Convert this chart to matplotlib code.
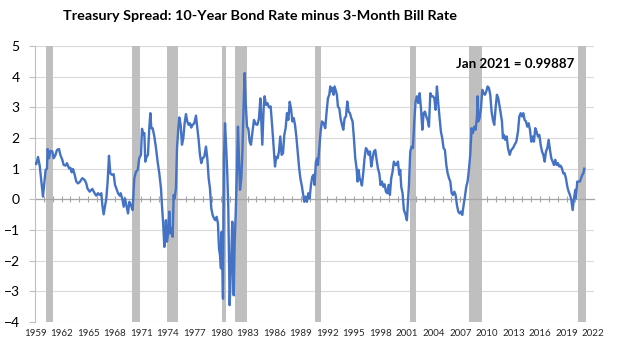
import matplotlib.pyplot as plt
import numpy as np

plt.rcParams['font.family'] = ['Lato', 'DejaVu Sans']

# ---- data (year as decimal, spread in % points) ----
dates_60s = [1959.00, 1959.15, 1959.34, 1959.53, 1959.71, 1959.90, 1960.20, 1960.35, 1960.43, 1960.58,
             1960.73, 1960.96, 1961.11, 1961.29, 1961.48, 1961.71, 1961.86, 1962.08, 1962.24, 1962.46,
             1962.61, 1962.84, 1962.99, 1963.14, 1963.29, 1963.48, 1963.66, 1963.85, 1964.04, 1964.34,
             1964.61, 1964.79, 1964.91, 1965.17, 1965.47, 1965.73, 1965.92, 1966.11, 1966.30, 1966.49,
             1966.60, 1966.75, 1966.90, 1967.05, 1967.20, 1967.35, 1967.50, 1967.69, 1967.88, 1968.03,
             1968.18, 1968.37, 1968.56, 1968.67, 1968.86, 1969.01, 1969.16, 1969.31, 1969.50, 1969.65,
             1969.83]
spread_60s = [1.18, 1.15, 1.38, 1.10, 0.60, 0.09, 0.96, 1.00, 1.64, 1.34,
              1.58, 1.56, 1.34, 1.43, 1.61, 1.64, 1.45, 1.29, 1.12, 1.10,
              1.18, 1.01, 1.03, 0.88, 0.99, 0.80, 0.58, 0.52, 0.56, 0.69,
              0.63, 0.52, 0.36, 0.25, 0.34, 0.20, 0.12, 0.20, 0.14, 0.20,
              -0.19, -0.49, -0.24, 0.03, 0.58, 1.42, 0.85, 0.80, 0.82, 0.47,
              0.36, 0.20, 0.12, 0.20, 0.01, -0.24, 0.03, -0.19, -0.46, -0.08,
              -0.19]

dates_70s = [1970.02, 1970.21, 1970.40, 1970.59, 1970.77, 1970.96, 1971.08, 1971.23, 1971.34, 1971.45,
             1971.60, 1971.75, 1971.90, 1972.02, 1972.13, 1972.28, 1972.47, 1972.66, 1972.84, 1973.03,
             1973.22, 1973.33, 1973.48, 1973.60, 1973.71, 1973.78, 1973.90, 1974.05, 1974.16, 1974.27,
             1974.39, 1974.54, 1974.65, 1974.76, 1974.91, 1975.03, 1975.18, 1975.29, 1975.44, 1975.59,
             1975.74, 1975.89, 1976.04, 1976.19, 1976.34, 1976.49, 1976.64, 1976.79, 1976.98, 1977.17,
             1977.32, 1977.47, 1977.62, 1977.77, 1977.92, 1978.11, 1978.30, 1978.45, 1978.60, 1978.75,
             1978.90, 1979.05, 1979.20, 1979.35, 1979.50, 1979.65, 1979.77, 1979.88, 1979.99]
spread_70s = [-0.35, 0.69, 0.90, 0.96, 1.34, 1.45, 2.30, 2.10, 2.16, 1.23,
              1.39, 1.45, 2.32, 2.81, 2.32, 2.32, 2.05, 1.67, 1.23, 0.85,
              0.36, -0.19, -0.84, -1.55, -1.27, -0.68, -1.38, -1.06, -0.40, -1.11,
              -0.95, -1.22, 0.14, 0.03, 0.36, 1.67, 2.32, 2.67, 2.43, 1.78,
              1.99, 2.48, 2.78, 2.54, 2.43, 2.48, 2.34, 2.43, 2.48, 2.73,
              2.32, 1.94, 1.45, 1.18, 1.34, 1.39, 1.72, 1.34, 0.69, 0.36,
              -0.29, -0.51, -0.62, -0.68, -0.57, -0.78, -1.60, -1.82, -2.25]

dates_80s = [1980.07, 1980.22, 1980.33, 1980.45, 1980.60, 1980.71, 1980.82, 1980.97, 1981.12, 1981.27,
             1981.43, 1981.54, 1981.65, 1981.80, 1981.91, 1982.03, 1982.14, 1982.29, 1982.40, 1982.55,
             1982.67, 1982.78, 1982.93, 1983.08, 1983.23, 1983.38, 1983.53, 1983.72, 1983.91, 1984.10,
             1984.28, 1984.44, 1984.55, 1984.66, 1984.81, 1984.92, 1985.07, 1985.23, 1985.41, 1985.60,
             1985.79, 1985.98, 1986.09, 1986.24, 1986.39, 1986.54, 1986.69, 1986.84, 1986.99, 1987.14,
             1987.29, 1987.44, 1987.60, 1987.75, 1987.90, 1988.05, 1988.20, 1988.35, 1988.50, 1988.65,
             1988.80, 1988.95, 1989.10, 1989.25, 1989.40, 1989.55, 1989.70, 1989.85]
spread_80s = [-1.06, -3.24, 1.34, 2.48, 1.56, 0.80, -0.29, -3.45, -2.25, -0.73,
              -3.13, -1.38, -0.51, 1.01, 2.37, 1.34, 0.31, 0.69, 1.45, 3.08,
              4.12, 3.18, 2.37, 2.30, 1.88, 1.78, 2.16, 2.59, 2.45, 2.43,
              2.63, 3.29, 2.54, 1.78, 2.99, 3.36, 3.08, 3.14, 3.00, 3.03,
              2.32, 1.50, 1.07, 1.39, 1.34, 1.56, 2.05, 1.45, 1.50, 2.10,
              2.32, 2.81, 2.59, 3.18, 2.96, 2.54, 2.65, 2.43, 2.05, 1.56,
              1.07, 0.69, 0.47, 0.20, -0.08, 0.09, -0.08, 0.20]

dates_90s = [1990.00, 1990.15, 1990.30, 1990.45, 1990.56, 1990.71, 1990.86, 1990.94, 1991.09, 1991.24,
             1991.39, 1991.58, 1991.76, 1991.92, 1992.07, 1992.22, 1992.33, 1992.44, 1992.59, 1992.71,
             1992.82, 1992.97, 1993.08, 1993.19, 1993.35, 1993.50, 1993.65, 1993.80, 1993.95, 1994.10,
             1994.25, 1994.40, 1994.55, 1994.70, 1994.85, 1995.00, 1995.15, 1995.30, 1995.41, 1995.53,
             1995.64, 1995.79, 1995.90, 1996.05, 1996.20, 1996.35, 1996.51, 1996.66, 1996.81, 1996.96,
             1997.11, 1997.26, 1997.41, 1997.56, 1997.71, 1997.86, 1998.01, 1998.16, 1998.31, 1998.46,
             1998.61, 1998.76, 1998.91, 1999.06, 1999.21, 1999.36, 1999.51, 1999.67, 1999.82, 1999.97]
spread_90s = [0.03, 0.47, 0.74, 0.80, 0.47, 1.23, 1.34, 1.12, 1.67, 2.21,
              2.54, 2.48, 2.32, 2.86, 3.30, 3.41, 3.68, 3.52, 3.63, 3.41,
              3.68, 3.52, 3.41, 3.03, 2.96, 2.63, 2.43, 2.27, 2.65, 2.70,
              3.19, 2.86, 2.81, 2.65, 2.54, 1.99, 1.34, 1.01, 0.58, 0.96,
              0.69, 0.58, 0.45, 0.85, 1.34, 1.67, 1.61, 1.45, 1.56, 1.07,
              1.34, 1.56, 1.61, 1.29, 1.01, 0.85, 0.47, 0.58, 0.41, 0.49,
              0.25, 0.20, 0.47, 0.14, 0.69, 0.90, 1.23, 1.12, 1.12, 1.23]

dates_00s = [2000.12, 2000.23, 2000.34, 2000.49, 2000.64, 2000.79, 2000.98, 2001.06, 2001.21, 2001.36,
             2001.51, 2001.66, 2001.81, 2001.96, 2002.11, 2002.26, 2002.42, 2002.57, 2002.72, 2002.87,
             2003.02, 2003.17, 2003.32, 2003.47, 2003.62, 2003.77, 2003.92, 2004.07, 2004.22, 2004.37,
             2004.52, 2004.67, 2004.82, 2004.97, 2005.12, 2005.27, 2005.43, 2005.58, 2005.73, 2005.88,
             2006.03, 2006.18, 2006.33, 2006.48, 2006.63, 2006.78, 2006.93, 2007.08, 2007.23, 2007.38,
             2007.53, 2007.68, 2007.83, 2007.98, 2008.13, 2008.28, 2008.43, 2008.59, 2008.74, 2008.89,
             2008.96, 2009.04, 2009.19, 2009.34, 2009.49, 2009.64, 2009.79, 2009.94]
spread_00s = [0.80, 0.96, 0.41, 0.20, -0.35, -0.46, -0.68, -0.29, 0.47, 1.56,
              1.72, 1.67, 2.54, 3.19, 3.36, 3.14, 3.46, 2.97, 2.27, 2.81,
              2.86, 2.70, 2.59, 2.37, 3.46, 3.36, 3.36, 3.30, 2.92, 3.68,
              3.14, 2.65, 2.21, 1.99, 1.67, 1.61, 1.12, 0.85, 0.69, 0.58,
              0.20, 0.14, 0.25, 0.14, -0.19, -0.40, -0.46, -0.40, -0.51, -0.19,
              0.09, 0.41, 0.58, 0.96, 1.45, 2.32, 2.16, 2.37, 2.27, 2.70,
              3.36, 2.54, 2.65, 2.97, 3.57, 3.46, 3.41, 3.52]

dates_10s = [2010.09, 2010.24, 2010.39, 2010.54, 2010.69, 2010.84, 2010.99, 2011.14, 2011.29, 2011.48,
             2011.71, 2011.82, 2011.94, 2012.09, 2012.24, 2012.39, 2012.58, 2012.76, 2012.95, 2013.14,
             2013.33, 2013.52, 2013.67, 2013.82, 2013.97, 2014.12, 2014.27, 2014.42, 2014.57, 2014.72,
             2014.87, 2015.02, 2015.17, 2015.32, 2015.47, 2015.62, 2015.77, 2015.93, 2016.08, 2016.23,
             2016.38, 2016.53, 2016.68, 2016.83, 2016.98, 2017.13, 2017.28, 2017.43, 2017.58, 2017.73,
             2017.88, 2018.03, 2018.18, 2018.33, 2018.48, 2018.63, 2018.78, 2018.93, 2019.09, 2019.24,
             2019.39, 2019.54, 2019.69, 2019.84, 2019.99, 2020.06, 2020.21, 2020.36, 2020.51, 2020.64,
             2020.78, 2020.90, 2021.00]
spread_10s = [3.68, 3.63, 3.41, 2.86, 2.59, 2.43, 2.97, 3.41, 3.30, 2.97,
              2.54, 1.99, 2.10, 1.94, 2.05, 1.67, 1.45, 1.61, 1.67, 1.78,
              1.88, 2.21, 2.70, 2.81, 2.70, 2.81, 2.59, 2.54, 2.37, 2.48,
              2.27, 1.88, 2.05, 1.88, 2.32, 2.21, 2.05, 2.10, 1.78, 1.56,
              1.45, 1.23, 1.56, 1.67, 1.94, 1.61, 1.34, 1.23, 1.12, 1.29,
              1.12, 1.18, 1.07, 1.10, 1.01, 0.85, 0.85, 0.69, 0.41, 0.25,
              0.14, -0.02, -0.35, 0.03, 0.31, 0.03, 0.58, 0.58, 0.58, 0.69,
              0.80, 0.85, 0.99887]

dates = dates_60s + dates_70s + dates_80s + dates_90s + dates_00s + dates_10s
spread = spread_60s + spread_70s + spread_80s + spread_90s + spread_00s + spread_10s
assert len(dates) == len(spread)

# NBER recessions as shaded in the chart
rec_start = [1960.25, 1969.98, 1973.86, 1980.07, 1981.60, 1990.60, 2001.28, 2008.00, 2020.25]
rec_end = [1961.08, 1970.85, 1975.17, 1980.56, 1982.90, 1991.24, 2001.96, 2009.50, 2021.15]

label_years = list(range(1959, 2023, 3))

# ---- figure ----
fig = plt.figure(figsize=(6.24, 3.43), dpi=100)
ax = fig.add_axes([35/624, 21/343, 559/624, 276/343])

for s, e in zip(rec_start, rec_end):
    ax.axvspan(s, e, color='#BFBFBF', lw=0, zorder=1)

ax.plot(dates, spread, color='#4472C4', lw=1.7, zorder=3)

ax.set_xlim(1959, 2022.1)
ax.set_ylim(-4, 5)
ax.set_yticks(range(-4, 6))
ax.yaxis.grid(True, color='#D9D9D9', lw=0.8)
ax.set_axisbelow(True)
ax.tick_params(axis='y', length=4, color='#BFBFBF', labelsize=10, pad=7)

for side in ['top', 'right']:
    ax.spines[side].set_visible(False)
ax.spines['left'].set_color('#BFBFBF')
ax.spines['left'].set_linewidth(0.8)

# zero line acts as the horizontal axis, with yearly tick marks
ax.spines['bottom'].set_position(('data', 0))
ax.spines['bottom'].set_color('#A6A6A6')
ax.spines['bottom'].set_linewidth(0.9)
ax.spines['bottom'].set_zorder(2)
ax.set_xticks(np.arange(1960, 2022))
ax.tick_params(axis='x', direction='inout', length=5, color='#A6A6A6', labelbottom=False)

# year labels sit at the bottom of the plot area
sec = ax.secondary_xaxis(0)
sec.set_xticks(label_years)
sec.set_xticklabels([str(y) for y in label_years])
sec.tick_params(length=0, labelsize=7, pad=5, labelcolor='#262626')
sec.spines['bottom'].set_visible(False)

fig.text(260/624, 1 - 16/343, 'Treasury Spread: 10-Year Bond Rate minus 3-Month Bill Rate',
         ha='center', va='center', fontsize=10.4, fontweight='bold')
ax.text(0.859, 0.936, f'Jan 2021 = {spread[-1]}', transform=ax.transAxes,
        ha='center', va='center', fontsize=9.6, fontweight='bold')

plt.savefig('out.png', dpi=100)
